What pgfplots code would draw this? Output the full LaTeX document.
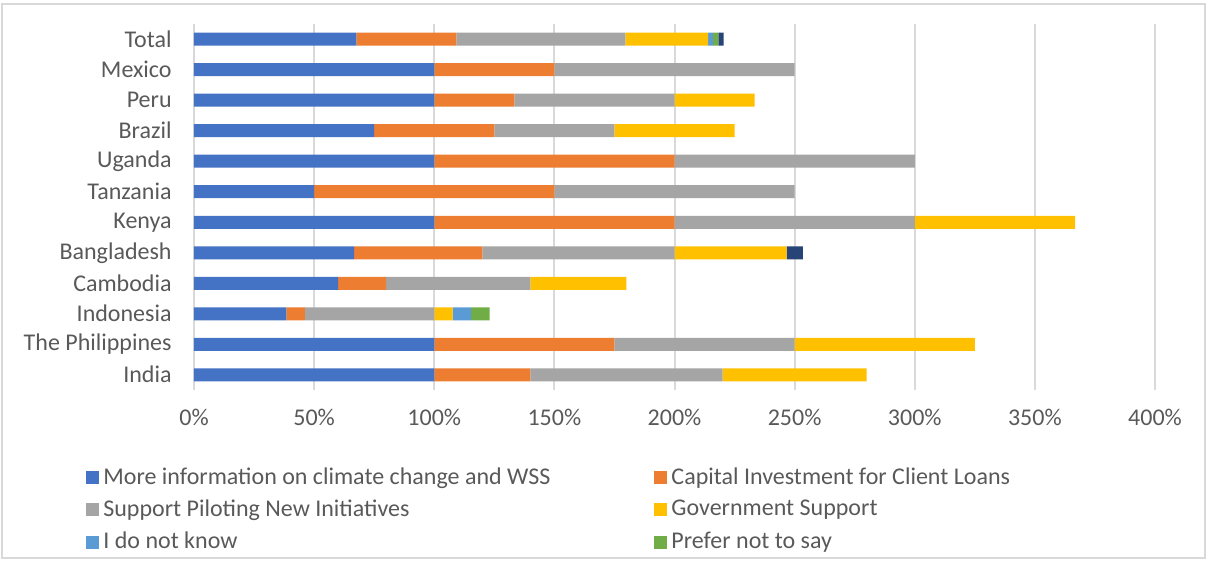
\documentclass[border=0pt]{standalone}
\usepackage{pgfplots}
\pgfplotsset{compat=1.18}
\usepackage{fontspec}
\setmainfont{Carlito}
\definecolor{cBlue}{HTML}{4472C4}
\definecolor{cOrange}{HTML}{ED7D31}
\definecolor{cGray}{HTML}{A5A5A5}
\definecolor{cYellow}{HTML}{FFC000}
\definecolor{cLtBlue}{HTML}{5B9BD5}
\definecolor{cGreen}{HTML}{70AD47}
\definecolor{cNavy}{HTML}{264478}
\definecolor{cText}{HTML}{595959}
\definecolor{cGrid}{HTML}{D9D9D9}
\begin{document}
\fontsize{12bp}{14.4bp}\selectfont
\begin{tikzpicture}
\useasboundingbox (-97bp,-86bp) rectangle (507bp,195bp);
\begin{axis}[
  scale only axis,
  width=480.5bp, height=183bp,
  xbar stacked,
  bar width=6.5bp,
  xmin=0, xmax=400,
  ymin=-0.5, ymax=11.5,
  xtick={0,50,...,400},
  xticklabel={\pgfmathprintnumber{\tick}\%},
  /pgf/number format/assume math mode=true,
  ytick={0,...,11},
  yticklabels={India,The Philippines,Indonesia,Cambodia,Bangladesh,Kenya,Tanzania,Uganda,Brazil,Peru,Mexico,Total},
  xmajorgrids,
  grid style={draw=cGrid, line width=1bp},
  axis line style={draw=none},
  major tick length=0pt,
  tick style={draw=none},
  ticklabel style={text=cText, font=\fontsize{12bp}{14.4bp}\selectfont},
  yticklabel style={xshift=-7bp},
  xticklabel style={yshift=-5.5bp},
  legend columns=2,
  legend cell align=left,
  legend style={at={(0,0)}, anchor=north west, xshift=-54bp, yshift=-36.5bp,
    draw=none, fill=none, inner sep=0pt,
    font=\fontsize{12bp}{14.4bp}\selectfont, text=cText,
    row sep=2.1bp,
    /tikz/every even column/.append style={column sep=50bp}},
  legend image code/.code={\fill[#1] (0bp,-3.25bp) rectangle (6.5bp,3.25bp);},
  every axis plot/.append style={draw=none},
]
\addplot[fill=cBlue] coordinates {(100,0) (100,1) (38.5,2) (60,3) (66.7,4) (100,5) (50,6) (100,7) (75,8) (100,9) (100,10) (67.6,11)};
\addplot[fill=cOrange] coordinates {(40,0) (75,1) (7.7,2) (20,3) (53.3,4) (100,5) (100,6) (100,7) (50,8) (33.3,9) (50,10) (41.6,11)};
\addplot[fill=cGray] coordinates {(80,0) (75,1) (53.8,2) (60,3) (80,4) (100,5) (100,6) (100,7) (50,8) (66.7,9) (100,10) (70.4,11)};
\addplot[fill=cYellow] coordinates {(60,0) (75,1) (7.7,2) (40,3) (46.7,4) (66.7,5) (0,6) (0,7) (50,8) (33.3,9) (0,10) (34.4,11)};
\addplot[fill=cLtBlue] coordinates {(0,0) (0,1) (7.7,2) (0,3) (0,4) (0,5) (0,6) (0,7) (0,8) (0,9) (0,10) (2.1,11)};
\addplot[fill=cGreen] coordinates {(0,0) (0,1) (7.7,2) (0,3) (0,4) (0,5) (0,6) (0,7) (0,8) (0,9) (0,10) (2.2,11)};
\addplot[fill=cNavy] coordinates {(0,0) (0,1) (0,2) (0,3) (6.7,4) (0,5) (0,6) (0,7) (0,8) (0,9) (0,10) (2.1,11)};
\legend{More information on climate change and WSS, Capital Investment for Client Loans, Support Piloting New Initiatives, Government Support, I do not know, Prefer not to say}
\end{axis}
\draw[cGrid, line width=1bp] (-96bp,-84bp) rectangle (505.5bp,193bp);
\end{tikzpicture}
\end{document}
